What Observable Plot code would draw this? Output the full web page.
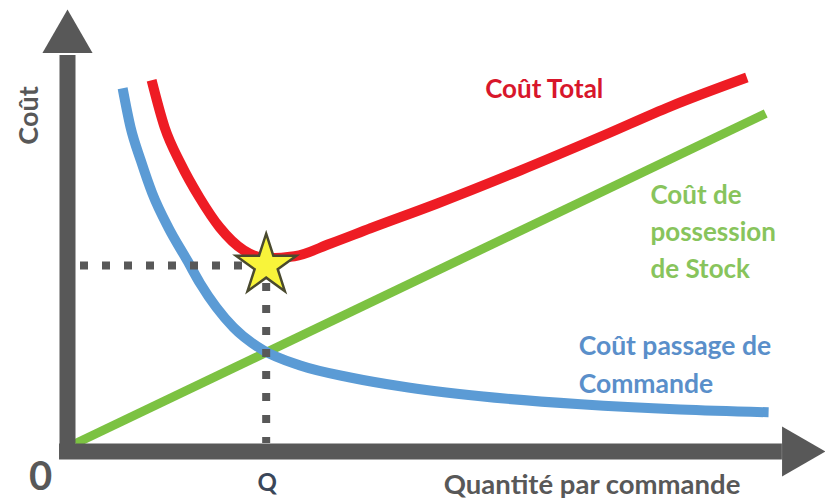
<!DOCTYPE html>
<html>
<head>
<meta charset="utf-8">
<script src="https://cdn.jsdelivr.net/npm/d3@7"></script>
<script src="https://cdn.jsdelivr.net/npm/@observablehq/plot@0.6"></script>
<style>
  html, body { margin: 0; padding: 0; background: #ffffff; }
  #chart svg { display: block; }
</style>
</head>
<body>
<div id="chart"></div>
<script>
// Quantité par commande (arbitrary units 0–100) and cost (0–100)
const holdingQ    = [0, 95.2];
const holdingCost = [0, 82.5];

const orderingQ    = [6.5, 7.6, 9.0, 10.6, 12.8, 15.4, 17.2, 21.8, 25.9, 31.0, 37.9, 44.8, 55.9, 69.7, 83.4, 95.6];
const orderingCost = [88.8, 79.0, 70.8, 62.5, 54.0, 45.8, 40.0, 29.0, 23.3, 19.5, 16.5, 14.3, 11.8, 9.8, 8.5, 7.8];

const totalQ    = [10.5, 12.3, 14.5, 17.1, 19.9, 23.2, 26.6, 30.2, 35.2, 40.7, 49.9, 61.4, 72.8, 82.1, 92.6];
const totalCost = [90.8, 79.0, 70.0, 61.5, 54.0, 48.3, 46.3, 46.8, 50.0, 53.8, 60.0, 68.3, 77.0, 84.3, 91.5];

const optimumQ = 26.3;
const optimumCost = 44.5;

// axis extents
const xAxisEnd = 97.5;
const yAxisEnd = 97;

// texts
const totalLabel    = ["Coût Total"];
const holdingLabel  = ["Coût de\npossession\nde Stock"];
const orderingLabel = ["Coût passage de\nCommande"];
const xAxisLabel    = ["Quantité par commande"];
const yAxisLabel    = ["Coût"];
const originLabel   = ["0"];
const optimumLabel  = ["Q"];

const holding  = holdingQ.map((q, i) => ({q, cost: holdingCost[i]}));
const ordering = orderingQ.map((q, i) => ({q, cost: orderingCost[i]}));
const total    = totalQ.map((q, i) => ({q, cost: totalCost[i]}));

const FONT = "Lato, 'Open Sans', sans-serif";
const GRAY = "#585858";

const chart = Plot.plot({
  width: 825,
  height: 499,
  marginLeft: 75,
  marginRight: 25,
  marginTop: 43,
  marginBottom: 56,
  x: {domain: [0, 100], axis: null},
  y: {domain: [0, 100], axis: null},
  style: {background: "#ffffff", fontFamily: FONT},
  marks: [
    // curves
    Plot.line(holding, {x: "q", y: "cost", stroke: "#7cc242", strokeWidth: 9, strokeLinecap: "butt"}),
    Plot.line(ordering, {x: "q", y: "cost", stroke: "#5b9bd5", strokeWidth: 10, strokeLinecap: "butt", curve: "monotone-x"}),
    Plot.line(total, {x: "q", y: "cost", stroke: "#ee1c24", strokeWidth: 10, strokeLinecap: "butt", curve: "monotone-x"}),
    // dotted guides
    Plot.ruleY([optimumCost], {x1: 0, x2: optimumQ, stroke: GRAY, strokeWidth: 8, strokeDasharray: "8,14", strokeDashoffset: 17}),
    Plot.ruleX([optimumQ], {y1: 0, y2: optimumCost, stroke: GRAY, strokeWidth: 8, strokeDasharray: "8,14", strokeDashoffset: 2}),
    // star at optimum
    Plot.dot([{q: optimumQ, cost: optimumCost}], {x: "q", y: "cost", symbol: "star", r: 19, fill: "#f8f43a", stroke: "#4a4a2e", strokeWidth: 2.5}),
    // axes (thick arrows)
    Plot.ruleX([0], {y1: -4, y2: yAxisEnd, dx: -8, stroke: GRAY, strokeWidth: 16}),
    Plot.ruleY([0], {x1: -2.2, x2: xAxisEnd, dy: 8, stroke: GRAY, strokeWidth: 16}),
    Plot.dot([0], {x: 0, y: 101.25, dx: -8, symbol: "triangle", r: 18.6, fill: GRAY, stroke: "none"}),
    Plot.dot([0], {x: 99.45, y: 0, dy: 8, symbol: "triangle", r: 18.6, rotate: 90, fill: GRAY, stroke: "none"}),
    // labels
    Plot.text(totalLabel, {text: d => d, x: 56.5, y: 86.5, textAnchor: "start", lineAnchor: "bottom", fontSize: 26, fontWeight: "bold", fill: "#d8162b"}),
    Plot.text(holdingLabel, {text: d => d, x: 79.3, y: 41.5, textAnchor: "start", lineAnchor: "bottom", lineHeight: 1.42, fontSize: 26, fontWeight: "bold", fill: "#88c45c"}),
    Plot.text(orderingLabel, {text: d => d, x: 69.4, y: 12.75, textAnchor: "start", lineAnchor: "bottom", lineHeight: 1.42, fontSize: 26.5, fontWeight: "bold", fill: "#5a8fca"}),
    Plot.text(xAxisLabel, {text: d => d, x: 50.8, y: -12.5, textAnchor: "start", lineAnchor: "bottom", fontSize: 27.5, fontWeight: "bold", fill: GRAY}),
    Plot.text(yAxisLabel, {text: d => d, x: -5.24, y: 82, rotate: -90, textAnchor: "middle", lineAnchor: "bottom", fontSize: 27, fontWeight: "bold", fill: GRAY}),
    Plot.text(originLabel, {text: d => d, x: -4.83, y: -11.5, textAnchor: "middle", lineAnchor: "bottom", fontSize: 40, fontWeight: "bold", fill: GRAY}),
    Plot.text(optimumLabel, {text: d => d, x: optimumQ, y: -11.75, dx: 1, textAnchor: "middle", lineAnchor: "bottom", fontSize: 24, fontWeight: "bold", fill: "#3b4759"})
  ]
});
document.getElementById("chart").appendChild(chart);
</script>
</body>
</html>
